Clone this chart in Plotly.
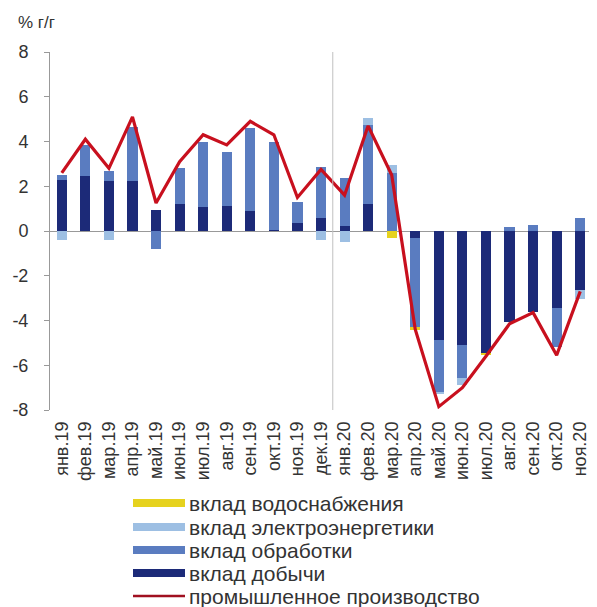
import plotly.graph_objects as go

months = ["янв.19", "фев.19", "мар.19", "апр.19", "май.19", "июн.19", "июл.19", "авг.19",
          "сен.19", "окт.19", "ноя.19", "дек.19", "янв.20", "фев.20", "мар.20", "апр.20",
          "май.20", "июн.20", "июл.20", "авг.20", "сен.20", "окт.20", "ноя.20"]

mining = [2.28, 2.45, 2.25, 2.25, 0.93, 1.2, 1.09, 1.1, 0.9, 0.05, 0.37, 0.58, 0.22, 1.2, 0.0,
          -0.33, -4.87, -5.1, -5.45, -4.05, -3.6, -3.45, -2.63]
manufacturing = [0.22, 1.4, 0.45, 2.4, -0.8, 1.6, 2.9, 2.45, 3.7, 3.95, 0.93, 2.3, 2.13, 3.53, 2.6,
                 -3.95, -2.35, -1.47, 0.0, 0.2, 0.27, -1.72, 0.6]
electricity = [-0.4, 0.0, -0.4, 0.0, 0.0, 0.0, 0.0, 0.0, 0.0, 0.0, 0.0, -0.4, -0.48, 0.3, 0.35,
               0.0, -0.05, -0.3, 0.0, 0.0, 0.0, 0.0, -0.4]
water = [0.0, 0.0, 0.0, 0.0, 0.0, 0.0, 0.0, 0.0, 0.0, 0.0, 0.0, 0.0, 0.0, 0.0, -0.3,
         -0.15, 0.0, 0.0, -0.1, 0.0, 0.0, 0.0, 0.0]
industry = [2.6, 4.1, 2.8, 5.1, 1.25, 3.1, 4.3, 3.85, 4.9, 4.3, 1.5, 2.75, 1.6, 4.7, 2.5,
            -4.4, -7.85, -7.0, -5.6, -4.15, -3.65, -5.55, -2.7]

y_ticks = [-8, -6, -4, -2, 0, 2, 4, 6, 8]
y_ticktext = ["-8", "-6", "-4", "-2", "0", "2", "4", "6", "8"]
y_title = "% г/г"

names = ["вклад водоснабжения", "вклад электроэнергетики", "вклад обработки", "вклад добычи",
         "промышленное производство"]
colors = ["#e6d21e", "#9dbfe3", "#5a7cc0", "#1c2a78", "#c8101e"]

# page body has an 8px margin, so the figure is shifted by 8px
OFF = 8
W, H = 597 - OFF, 607 - OFF
L, R, T, B = 50 - OFF, 5, 52 - OFF, 197
PW, PH = W - L - R, H - T - B

x = list(range(len(months)))
fig = go.Figure()
for vals, nm, col in [(mining, names[3], colors[3]),
                      (manufacturing, names[2], colors[2]),
                      (electricity, names[1], colors[1]),
                      (water, names[0], colors[0])]:
    fig.add_trace(go.Bar(x=x, y=vals, name=nm, marker=dict(color=col, line=dict(width=0)),
                         width=0.43, showlegend=False))
fig.add_trace(go.Scatter(x=x, y=industry, mode="lines", name=names[4],
                         line=dict(color=colors[4], width=3.2), showlegend=False))

fig.update_layout(
    width=W, height=H, margin=dict(l=L, r=R, t=T, b=B),
    paper_bgcolor="white", plot_bgcolor="white",
    barmode="relative", bargap=0,
    font=dict(family="Liberation Sans, Arial, sans-serif", color="#333333"),
    xaxis=dict(range=[-0.5, len(months) - 0.5], tickvals=x, ticktext=months, tickangle=-90,
               showgrid=False, zeroline=False, showline=False, ticks="",
               ticklabelstandoff=7,
               tickfont=dict(size=18, color="#333333")),
    yaxis=dict(range=[-8, 8], tickvals=y_ticks, ticktext=y_ticktext, showgrid=False,
               zeroline=True, zerolinecolor="#999999", zerolinewidth=1,
               showline=True, linecolor="#999999", linewidth=1,
               ticks="outside", ticklen=5, tickcolor="#999999",
               ticklabelstandoff=12,
               tickfont=dict(size=18, color="#333333")),
)

# separator between years
fig.add_shape(type="line", xref="x", yref="paper", x0=11.5, x1=11.5, y0=0, y1=1,
              line=dict(color="#c0c0c0", width=1))


def px_x(p):
    return (p - OFF - L) / PW


def px_y(p):
    return (H - B - (p - OFF)) / PH


fig.add_annotation(xref="paper", yref="paper", x=px_x(16), y=px_y(23),
                   text=y_title, showarrow=False, xanchor="left", yanchor="middle",
                   font=dict(size=17, color="#333333"))

# custom legend
leg_y = [503, 527, 550, 573, 596]
for i, (nm, col) in enumerate(zip(names, colors)):
    yc = leg_y[i]
    if i < 4:
        fig.add_shape(type="rect", xref="paper", yref="paper",
                      x0=px_x(133), x1=px_x(185), y0=px_y(yc + 4), y1=px_y(yc - 4),
                      fillcolor=col, line=dict(width=0))
    else:
        fig.add_shape(type="line", xref="paper", yref="paper",
                      x0=px_x(133), x1=px_x(185), y0=px_y(yc), y1=px_y(yc),
                      line=dict(color="#a01020", width=2.5))
    fig.add_annotation(xref="paper", yref="paper", x=px_x(187), y=px_y(yc),
                       text=nm, showarrow=False, xanchor="left", yanchor="middle",
                       font=dict(size=21, color="#333333"))

fig.write_html("out.html")
